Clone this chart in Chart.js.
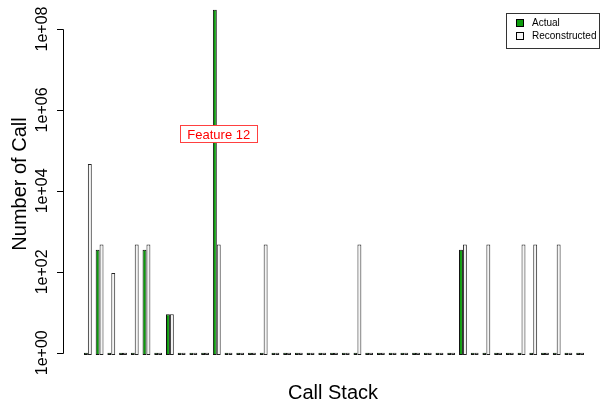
<!DOCTYPE html>
<html>
<head>
<meta charset="utf-8">
<script src="https://cdn.jsdelivr.net/npm/chart.js@4"></script>
<style>
  body { margin: 0; background: #fff; }
  #box { width: 600px; height: 408px; }
</style>
</head>
<body>
<div id="box"><canvas id="grafico"></canvas></div>
<script>
// call stack features (43 groups)
const features = [
  "Feature 1", "Feature 2", "Feature 3", "Feature 4", "Feature 5", "Feature 6",
  "Feature 7", "Feature 8", "Feature 9", "Feature 10", "Feature 11", "Feature 12",
  "Feature 13", "Feature 14", "Feature 15", "Feature 16", "Feature 17", "Feature 18",
  "Feature 19", "Feature 20", "Feature 21", "Feature 22", "Feature 23", "Feature 24",
  "Feature 25", "Feature 26", "Feature 27", "Feature 28", "Feature 29", "Feature 30",
  "Feature 31", "Feature 32", "Feature 33", "Feature 34", "Feature 35", "Feature 36",
  "Feature 37", "Feature 38", "Feature 39", "Feature 40", "Feature 41", "Feature 42",
  "Feature 43"
];

const actual = [
  1, 350, 1, 1, 1, 350, 1, 9, 1, 1,
  1, 3e8, 1, 1, 1, 1, 1, 1, 1, 1,
  1, 1, 1, 1, 1, 1, 1, 1, 1, 1,
  1, 1, 350, 1, 1, 1, 1, 1, 1, 1,
  1, 1, 1
];

const reconstructed = [
  46000, 470, 94, 1, 470, 470, 1, 9, 1, 1,
  1, 470, 1, 1, 1, 470, 1, 1, 1, 1,
  1, 1, 1, 470, 1, 1, 1, 1, 1, 1,
  1, 1, 470, 1, 470, 1, 1, 470, 470, 1,
  470, 1, 1
];

const yTicks = [1, 1e2, 1e4, 1e6, 1e8];
const yTickLabels = ["1e+00", "1e+02", "1e+04", "1e+06", "1e+08"];
const highlight = "Feature 12";

const fonte = "'Liberation Sans', Arial, sans-serif";

const desenho = {
  id: "desenho",
  afterDatasetsDraw(chart) {
    const c = chart.ctx;
    const y = chart.scales.y;
    const x = chart.scales.x;
    c.save();

    // eixo y
    const axisX = 63;
    c.strokeStyle = "#000";
    c.lineWidth = 1;
    c.beginPath();
    c.moveTo(axisX + 0.5, Math.round(y.getPixelForValue(yTicks[0])) + 0.5);
    c.lineTo(axisX + 0.5, Math.round(y.getPixelForValue(yTicks[yTicks.length - 1])) + 0.5);
    for (let i = 0; i < yTicks.length; i++) {
      const py = Math.round(y.getPixelForValue(yTicks[i])) + 0.5;
      c.moveTo(axisX - 6, py);
      c.lineTo(axisX + 0.5, py);
    }
    c.stroke();

    c.fillStyle = "#000";
    c.textAlign = "center";
    c.textBaseline = "middle";
    c.font = "16px " + fonte;
    for (let i = 0; i < yTicks.length; i++) {
      const py = y.getPixelForValue(yTicks[i]);
      c.save();
      c.translate(43, py);
      c.rotate(-Math.PI / 2);
      c.fillText(yTickLabels[i], 0, 0);
      c.restore();
    }

    // titulos
    c.font = "20px " + fonte;
    c.fillText("Call Stack", 333, 393);
    c.save();
    c.translate(20, 184);
    c.rotate(-Math.PI / 2);
    c.fillText("Number of Call", 0, 0);
    c.restore();

    // rotulo Feature 12
    const idx = features.indexOf(highlight);
    const fx = x.getPixelForValue(idx) + 2;
    const fy = 134;
    c.font = "13px " + fonte;
    const w = c.measureText(highlight).width + 14;
    c.fillStyle = "#fff";
    c.fillRect(fx - w / 2, fy - 9, w, 18);
    c.strokeStyle = "#ff4040";
    c.strokeRect(Math.round(fx - w / 2) + 0.5, fy - 8.5, Math.round(w), 17);
    c.fillStyle = "#ff0000";
    c.fillText(highlight, fx, fy + 1);

    // legenda
    c.fillStyle = "#fff";
    c.fillRect(506, 13, 93, 35);
    c.strokeStyle = "#333";
    c.strokeRect(506.5, 13.5, 93, 35);
    const itens = [["Actual", "#0c9c0c"], ["Reconstructed", "#f4f4f4"]];
    c.font = "10px " + fonte;
    c.textAlign = "left";
    for (let i = 0; i < itens.length; i++) {
      const ly = 23 + i * 13;
      c.fillStyle = itens[i][1];
      c.fillRect(516, ly - 3, 7, 6);
      c.strokeStyle = "#000";
      c.strokeRect(516.5, ly - 3.5, 7, 7);
      c.fillStyle = "#000";
      c.fillText(itens[i][0], 532, ly);
    }
    c.restore();
  }
};

const ctx = document.getElementById("grafico");

new Chart(ctx, {
  type: "bar",
  data: {
    labels: features,
    datasets: [
      {
        label: "Actual",
        data: actual,
        backgroundColor: "#0c9c0c",
        borderColor: "#111",
        borderWidth: 1,
        borderSkipped: false,
        categoryPercentage: 2 / 3,
        barPercentage: 1,
      },
      {
        label: "Reconstructed",
        data: reconstructed,
        backgroundColor: "#f4f4f4",
        borderColor: "#222",
        borderWidth: 1,
        borderSkipped: false,
        categoryPercentage: 2 / 3,
        barPercentage: 1,
      },
    ],
  },
  options: {
    responsive: true,
    maintainAspectRatio: false,
    animation: false,
    layout: {
      padding: { left: 82, right: 14, top: 5, bottom: 53 },
    },
    scales: {
      x: {
        display: false,
        offset: true,
      },
      y: {
        type: "logarithmic",
        display: false,
        min: 0.88,
        max: 3.92e8,
        bounds: "data",
      },
    },
    plugins: {
      legend: { display: false },
      tooltip: { enabled: false },
      title: { display: false },
    },
  },
  plugins: [desenho],
});
</script>
</body>
</html>
